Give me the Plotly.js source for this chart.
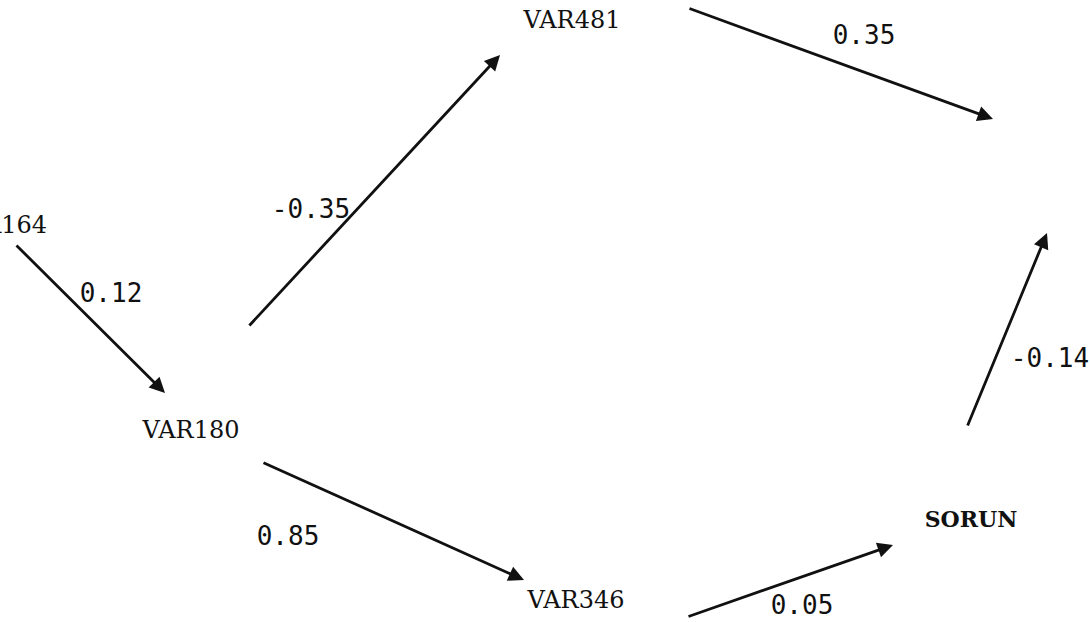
<!DOCTYPE html>
<html>
<head>
<meta charset="utf-8">
<script src="https://cdn.plot.ly/plotly-3.0.1.min.js"></script>
<style>html,body{margin:0;padding:0;background:#fff;}#chart{width:1090px;height:622px;}</style>
</head>
<body>
<div id="chart"></div>
<script>
// ---- data ----
var nodeNames = ["VAR164", "VAR180", "VAR481", "SORUN", "VAR346"];
var edgeFrom = ["VAR164", "VAR180", "VAR481", "SORUN", "VAR180", "VAR346"];
var edgeTo   = ["VAR180", "VAR481", "SORUN", "SORUN", "VAR346", "SORUN"];
var coefficients = ["0.12", "-0.35", "0.35", "-0.14", "0.85", "0.05"];

// ---- layout (diagram geometry, not data) ----
var nodeX = [47, 191, 572, 971, 576];
var nodeY = [227, 432, 22, 521, 602];
var nodeAnchor = ["middle left", "middle center", "middle center", "middle center", "middle center"];
var nodeSize = [24, 24, 24, 22, 24];
var nodeWeight = ["normal", "normal", "normal", "bold", "normal"];
var tailX = [15, 248, 688, 967, 262, 687];
var tailY = [244, 327, 8, 427, 462, 617];
var headX = [165, 500, 993, 1047, 524, 893];
var headY = [393, 55, 119, 233, 580, 545];
var labX = [111, 311, 864, 1050, 288, 802];
var labY = [295, 211, 37, 360, 538, 607];

var traces = [
  {
    type: "scatter", mode: "text",
    x: nodeX, y: nodeY, text: nodeNames,
    textposition: nodeAnchor,
    textfont: {family: "DejaVu Serif", size: nodeSize, weight: nodeWeight, color: "#111"},
    hoverinfo: "none", showlegend: false, cliponaxis: false
  },
  {
    type: "scatter", mode: "text",
    x: labX, y: labY, text: coefficients,
    textposition: "middle center",
    textfont: {family: "DejaVu Sans Mono", size: 26, color: "#111"},
    hoverinfo: "none", showlegend: false, cliponaxis: false
  }
];

var annotations = edgeFrom.map(function (f, i) {
  return {
    x: headX[i], y: headY[i], ax: tailX[i], ay: tailY[i],
    xref: "x", yref: "y", axref: "x", ayref: "y",
    text: "", showarrow: true, arrowhead: 2, arrowsize: 1.1,
    arrowwidth: 2.8, arrowcolor: "#111", standoff: 0, startstandoff: 0
  };
});

var layout = {
  width: 1090, height: 622,
  margin: {l: 0, r: 0, t: 0, b: 0},
  paper_bgcolor: "#fff", plot_bgcolor: "#fff",
  xaxis: {range: [0, 1090], visible: false, fixedrange: true},
  yaxis: {range: [622, 0], visible: false, fixedrange: true},
  annotations: annotations,
  showlegend: false
};

Plotly.newPlot("chart", traces, layout, {staticPlot: true, displayModeBar: false});
</script>
</body>
</html>
